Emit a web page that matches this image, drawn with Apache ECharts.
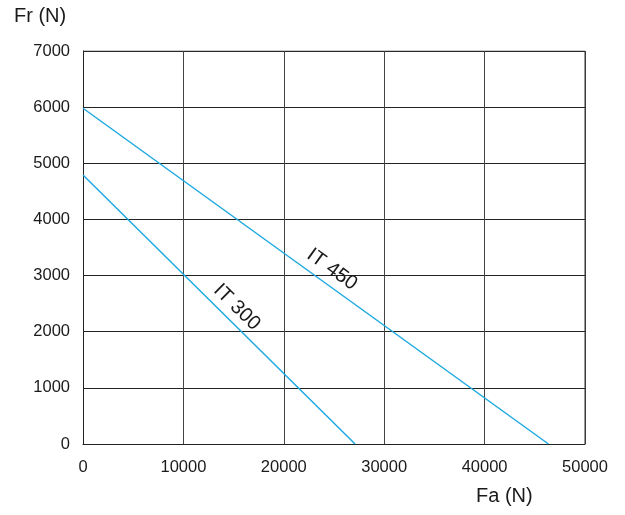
<!DOCTYPE html>
<html><head><meta charset="utf-8">
<script src="https://cdn.jsdelivr.net/npm/echarts@6/dist/echarts.min.js"></script>
<style>html,body{margin:0;padding:0;background:#fff}#c{width:625px;height:515px}</style>
</head><body><div id="c"></div>
<script>
var xTicks = [0, 10000, 20000, 30000, 40000, 50000];
var yTicks = [0, 1000, 2000, 3000, 4000, 5000, 6000, 7000];
var it450 = [[0, 5980], [46360, 0]];
var it300 = [[0, 4790], [27100, 0]];
var labelNames = ['IT 450', 'IT 300'];
var labelPos = [[24800, 3110], [15320, 2435]];
var labelRot = [-35.9, -44.7];

var font = '"Liberation Sans", Arial, sans-serif';
var chart = echarts.init(document.getElementById('c'), null, {renderer: 'canvas'});
var lineColor = '#1ea9e1';
function fmt(v) { return String(v); }
chart.setOption({
  animation: false,
  grid: {left: 83, right: 40, top: 51, bottom: 71, show: false},
  xAxis: {type: 'value', min: xTicks[0], max: xTicks[xTicks.length - 1], interval: 10000,
    axisLine: {show: true, lineStyle: {color: '#222', width: 1}},
    axisTick: {show: false},
    axisLabel: {color: '#1a1a1a', fontSize: 16.5, fontFamily: font, margin: 15, formatter: fmt},
    splitLine: {show: true, lineStyle: {color: '#444', width: 1}}},
  yAxis: {type: 'value', min: yTicks[0], max: yTicks[yTicks.length - 1], interval: 1000,
    axisLine: {show: true, lineStyle: {color: '#222', width: 1}},
    axisTick: {show: false},
    axisLabel: {color: '#1a1a1a', fontSize: 16.5, fontFamily: font, margin: 13, formatter: fmt},
    splitLine: {show: true, lineStyle: {color: '#222', width: 1}}},
  series: [
    {type: 'line', data: it450, showSymbol: false, lineStyle: {color: lineColor, width: 1.5}},
    {type: 'line', data: it300, showSymbol: false, lineStyle: {color: lineColor, width: 1.5}},
    {type: 'line', data: [[0, 7000], [50000, 7000], [50000, 0]], showSymbol: false, silent: true,
     lineStyle: {color: '#333', width: 1}}
  ]
});
var g = [
  {type: 'text', left: 14, top: 6, style: {text: 'Fr (N)', fontSize: 20, fontFamily: font, fill: '#1a1a1a'}},
  {type: 'text', left: 476, top: 486, style: {text: 'Fa (N)', fontSize: 20, fontFamily: font, fill: '#1a1a1a'}}
];
for (var i = 0; i < labelNames.length; i++) {
  var p = chart.convertToPixel({gridIndex: 0}, labelPos[i]);
  g.push({type: 'text', x: p[0], y: p[1], rotation: labelRot[i] * Math.PI / 180,
    style: {text: labelNames[i], fontSize: 20, fontFamily: font, fill: '#1a1a1a', align: 'center', verticalAlign: 'middle'}});
}
chart.setOption({graphic: g});
</script></body></html>
